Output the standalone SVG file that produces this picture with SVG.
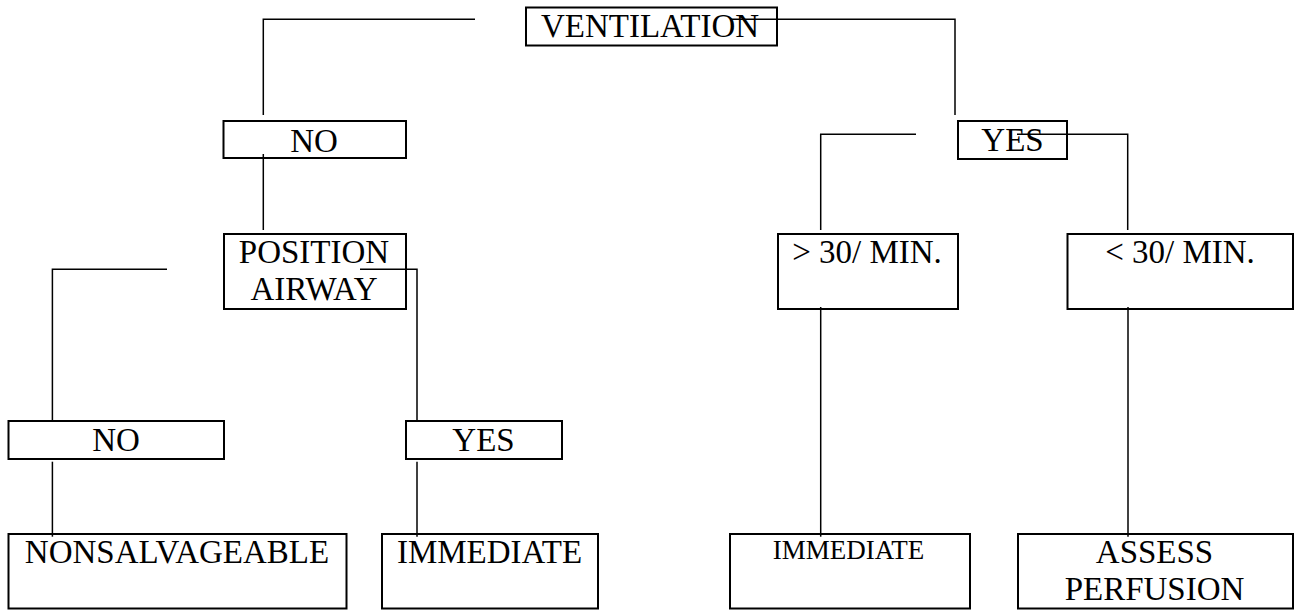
<svg xmlns="http://www.w3.org/2000/svg" width="1295" height="610" viewBox="0 0 1295 610">
<style>
.box{fill:none;stroke:#000;stroke-width:2}
text{font-family:'Liberation Serif','Times New Roman','DejaVu Serif',serif;font-size:33px;fill:#000;text-anchor:middle}
.s{font-size:27px}
.c{fill:none;stroke:#000;stroke-width:1.5}
</style>
<rect x="0" y="0" width="1295" height="610" fill="#fff"/>
<g id="ventilation"><rect class="box" x="526" y="7.5" width="251" height="38"/><text x="650" y="37.3">VENTILATION</text></g>
<g id="no1"><rect class="box" x="223.5" y="121" width="182.5" height="37"/><text x="314" y="151.5">NO</text></g>
<g id="yes1"><rect class="box" x="958" y="121" width="109" height="38"/><text x="1012.5" y="150.7">YES</text></g>
<g id="position"><rect class="box" x="224" y="234" width="182" height="75"/><text x="314" y="263.3">POSITION</text><text x="314" y="300">AIRWAY</text></g>
<g id="gt30"><rect class="box" x="778" y="234" width="180" height="75"/><text x="867" y="263.3">&gt; 30/ MIN.</text></g>
<g id="lt30"><rect class="box" x="1067.5" y="234" width="225.5" height="75"/><text x="1180" y="263.3">&lt; 30/ MIN.</text></g>
<g id="no2"><rect class="box" x="8.5" y="421" width="215.5" height="38"/><text x="116" y="450.7">NO</text></g>
<g id="yes2"><rect class="box" x="406" y="421" width="156" height="38"/><text x="483.5" y="450.7">YES</text></g>
<g id="nonsalvageable"><rect class="box" x="8.5" y="534" width="338" height="74.5"/><text x="177" y="563.3">NONSALVAGEABLE</text></g>
<g id="immediate1"><rect class="box" x="382" y="534" width="216" height="74.5"/><text x="489.5" y="563.3">IMMEDIATE</text></g>
<g id="immediate2"><rect class="box" x="730" y="534" width="240" height="74.5"/><text class="s" x="848.5" y="559">IMMEDIATE</text></g>
<g id="assess"><rect class="box" x="1018" y="534" width="275" height="74.5"/><text x="1154.5" y="563.3">ASSESS</text><text x="1154.5" y="600">PERFUSION</text></g>
<g id="connectors">
<path class="c" d="M475,19.3 H263.3 V115"/>
<path class="c" d="M730,19.3 H955 V115"/>
<path class="c" d="M263.3,154 V230"/>
<path class="c" d="M167,269.3 H52.4 V422"/>
<path class="c" d="M360,269.3 H417 V422"/>
<path class="c" d="M52.4,461.7 V536.7"/>
<path class="c" d="M417,461.7 V536.7"/>
<path class="c" d="M916,134.3 H820.7 V230"/>
<path class="c" d="M1017,134.3 H1127.7 V230"/>
<path class="c" d="M820.7,307 V536.7"/>
<path class="c" d="M1128,307 V536.7"/>
</g>
</svg>
